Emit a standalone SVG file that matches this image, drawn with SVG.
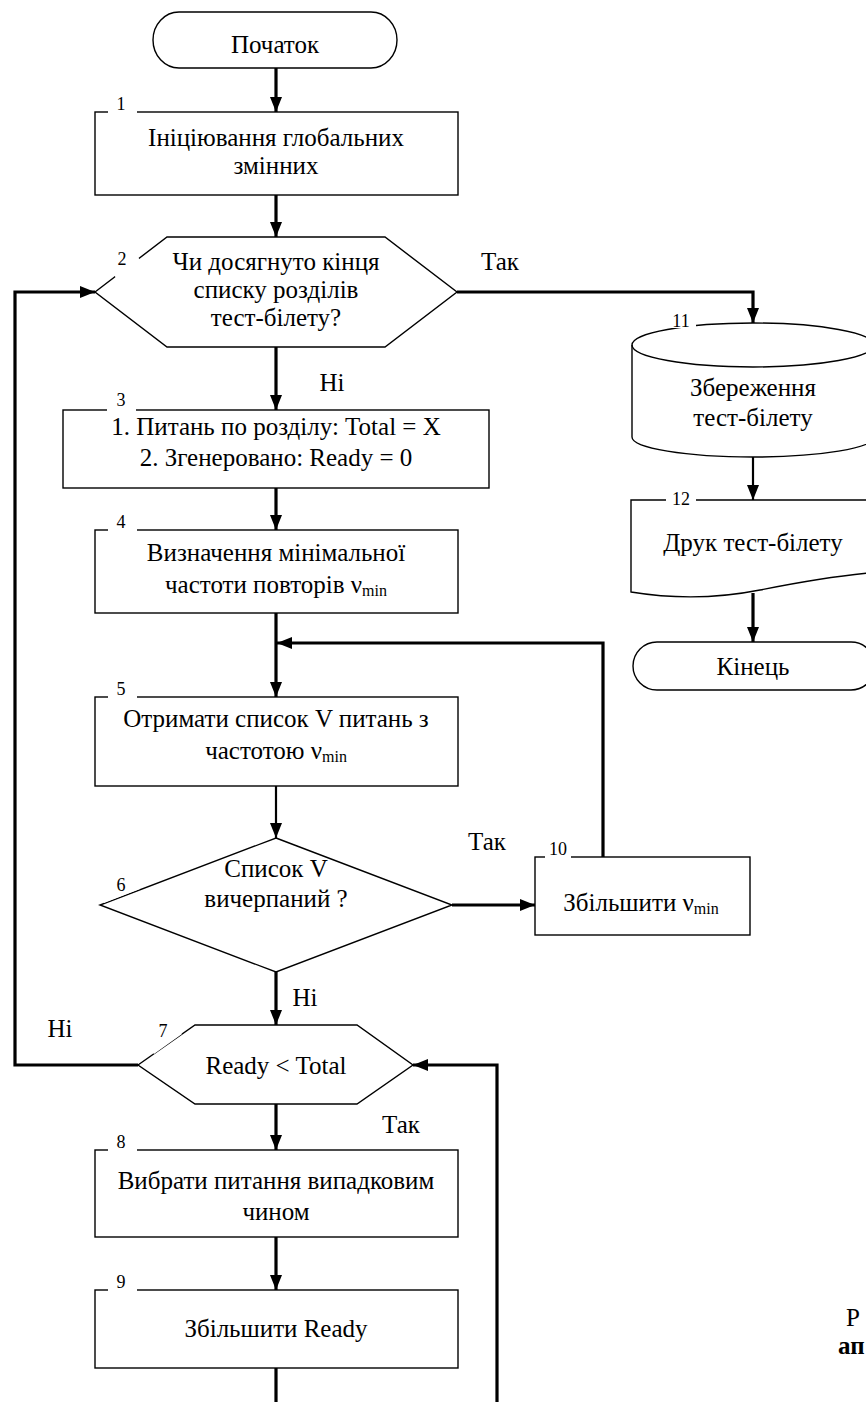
<svg xmlns="http://www.w3.org/2000/svg" width="866" height="1402" viewBox="0 0 866 1402">
<style>
.sh{fill:#fff;stroke:#000;stroke-width:1.4}
.ln{fill:none;stroke:#000;stroke-width:1.4}
.t{font-family:"Liberation Serif","DejaVu Serif","Times New Roman",serif;font-size:25px;fill:#000;text-anchor:middle}
.n{font-family:"Liberation Serif","DejaVu Serif","Times New Roman",serif;font-size:18px;fill:#000;text-anchor:middle}
.gap{fill:#fff;stroke:none}
.c{fill:none;stroke:#000;stroke-width:3.2}
.c2{fill:none;stroke:#000;stroke-width:2.2}
.sub{font-size:16px}
</style>
<defs>
<marker id="ah" viewBox="0 0 15 12" refX="15" refY="6" markerWidth="15" markerHeight="12" markerUnits="userSpaceOnUse" orient="auto">
<path d="M0,0 L15,6 L0,12 z" fill="#000"/>
</marker>
</defs>
<rect width="866" height="1402" fill="#fff"/>

<g id="connectors">
<path class="c" d="M276,68 V112" marker-end="url(#ah)"/>
<path class="c" d="M276,195 V237" marker-end="url(#ah)"/>
<path class="c" d="M457,292 H753 V323" marker-end="url(#ah)"/>
<path class="c" d="M276,347 V410" marker-end="url(#ah)"/>
<path class="c" d="M276,488 V530" marker-end="url(#ah)"/>
<path class="c" d="M276,613 V697" marker-end="url(#ah)"/>
<path class="c" d="M603,857 V643 H277" marker-end="url(#ah)"/>
<path class="c2" d="M276,786 V838" marker-end="url(#ah)"/>
<path class="c" d="M452,905 H535" marker-end="url(#ah)"/>
<path class="c" d="M276,972 V1025" marker-end="url(#ah)"/>
<path class="c" d="M138,1065 H15 V292 H95" marker-end="url(#ah)"/>
<path class="c" d="M276,1104 V1150" marker-end="url(#ah)"/>
<path class="c" d="M276,1237 V1290" marker-end="url(#ah)"/>
<path class="c" d="M276,1368 V1412 H497 V1065 H413" marker-end="url(#ah)"/>
<path class="c2" d="M753,457 V500" marker-end="url(#ah)"/>
<path class="c" d="M753,593 V642" marker-end="url(#ah)"/>
<text class="t" x="500" y="270">Так</text>
<text class="t" x="332" y="391">Ні</text>
<text class="t" x="487" y="850">Так</text>
<text class="t" x="305" y="1006">Ні</text>
<text class="t" x="60" y="1037">Ні</text>
<text class="t" x="401" y="1133">Так</text>
</g>

<g id="start">
<rect class="sh" x="153" y="12" width="244" height="56" rx="26" ry="28"/>
<text class="t" x="275" y="53">Початок</text>
</g>

<g id="node1">
<rect class="sh" x="95" y="112" width="363" height="83"/>
<rect class="gap" x="108" y="108" width="29" height="8"/>
<text class="n" x="121" y="110">1</text>
<text class="t" x="276" y="146">Ініціювання глобальних</text>
<text class="t" x="276" y="174">змінних</text>
</g>

<g id="node2">
<polygon class="sh" points="95,292 167,237 385,237 457,292 385,347 167,347"/>
<polygon class="gap" points="116,278 140,260 133,250 110,268"/>
<text class="n" x="122" y="265">2</text>
<text class="t" x="276" y="270">Чи досягнуто кінця</text>
<text class="t" x="276" y="298">списку розділів</text>
<text class="t" x="276" y="326">тест-білету?</text>
</g>

<g id="node3">
<rect class="sh" x="63" y="410" width="426" height="78"/>
<rect class="gap" x="107" y="406" width="29" height="8"/>
<text class="n" x="121" y="406">3</text>
<text class="t" x="276" y="435">1. Питань по розділу: Total = X</text>
<text class="t" x="276" y="466">2. Згенеровано: Ready = 0</text>
</g>

<g id="node4">
<rect class="sh" x="95" y="530" width="363" height="83"/>
<rect class="gap" x="108" y="526" width="29" height="8"/>
<text class="n" x="121" y="528">4</text>
<text class="t" x="276" y="561">Визначення мінімальної</text>
<text class="t" x="276" y="593">частоти повторів ν<tspan class="sub" dy="3">min</tspan></text>
</g>

<g id="node5">
<rect class="sh" x="95" y="697" width="363" height="89"/>
<rect class="gap" x="108" y="693" width="29" height="8"/>
<text class="n" x="121" y="695">5</text>
<text class="t" x="276" y="727">Отримати список V питань з</text>
<text class="t" x="276" y="759">частотою ν<tspan class="sub" dy="3">min</tspan></text>
</g>

<g id="node6">
<polygon class="sh" points="276,838 452,905 276,972 100,905"/>
<polygon class="gap" points="104,903 140,889 136,878 100,892"/>
<text class="n" x="121" y="891">6</text>
<text class="t" x="276" y="877">Список V</text>
<text class="t" x="276" y="907">вичерпаний ?</text>
</g>

<g id="node7">
<polygon class="sh" points="138,1065 195,1025 357,1025 413,1065 357,1104 195,1104"/>
<polygon class="gap" points="154,1054 182,1034 174,1024 146,1044"/>
<text class="n" x="163" y="1037">7</text>
<text class="t" x="276" y="1074">Ready &lt; Total</text>
</g>

<g id="node8">
<rect class="sh" x="95" y="1150" width="363" height="87"/>
<rect class="gap" x="108" y="1146" width="29" height="8"/>
<text class="n" x="121" y="1148">8</text>
<text class="t" x="276" y="1189">Вибрати питання випадковим</text>
<text class="t" x="276" y="1220">чином</text>
</g>

<g id="node9">
<rect class="sh" x="95" y="1290" width="363" height="78"/>
<rect class="gap" x="108" y="1286" width="29" height="8"/>
<text class="n" x="121" y="1288">9</text>
<text class="t" x="276" y="1337">Збільшити Ready</text>
</g>

<g id="node10">
<rect class="sh" x="535" y="857" width="215" height="78"/>
<rect class="gap" x="545" y="853" width="26" height="8"/>
<text class="n" x="558" y="855">10</text>
<text class="t" x="641" y="911">Збільшити ν<tspan class="sub" dy="3">min</tspan></text>
</g>

<g id="node11">
<path class="sh" d="M632,345 A121,22 0 0 1 874,345 V437 A121,20 0 0 1 632,437 Z"/>
<path class="ln" d="M632,345 A121,22 0 0 0 874,345"/>
<rect class="gap" x="666" y="312" width="30" height="16"/>
<text class="n" x="681" y="327">11</text>
<text class="t" x="753" y="396">Збереження</text>
<text class="t" x="753" y="426">тест-білету</text>
</g>

<g id="node12">
<path class="sh" d="M631,500 H880 V572 C840,575 800,582 760,590 C720,598 680,600 631,592 Z"/>
<rect class="gap" x="666" y="494" width="30" height="10"/>
<text class="n" x="681" y="505">12</text>
<text class="t" x="753" y="551">Друк тест-білету</text>
</g>

<g id="end">
<rect class="sh" x="633" y="642" width="242" height="48" rx="24" ry="24"/>
<text class="t" x="753" y="675">Кінець</text>
</g>

<g id="caption">
<text x="846" y="1326" style="font-family:'Liberation Serif','DejaVu Serif',serif;font-size:25px">Р</text>
<text x="838" y="1354" style="font-family:'Liberation Serif','DejaVu Serif',serif;font-size:25px;font-weight:bold">ап</text>
</g>
</svg>
